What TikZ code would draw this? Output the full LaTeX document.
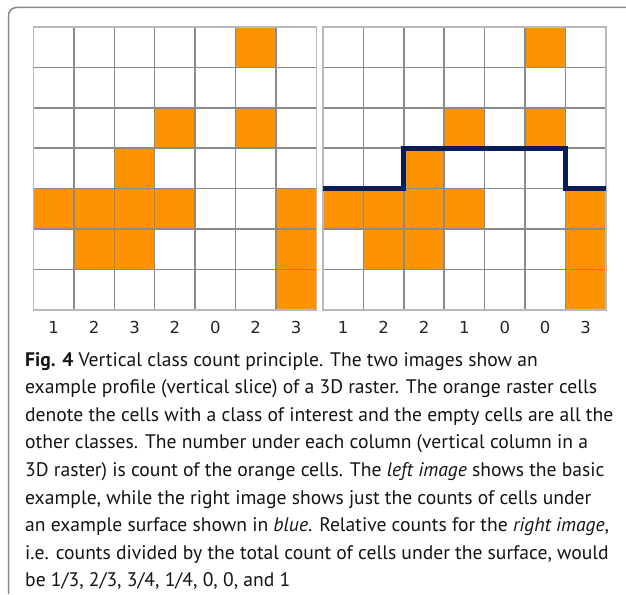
\documentclass[tikz,border=0pt]{standalone}
\usepackage{fontspec}
\setmainfont{PT Sans}
\newfontfamily\numfont{DejaVu Sans}
\definecolor{cellorange}{RGB}{255,146,0}
\definecolor{gridgray}{RGB}{138,138,138}
\definecolor{bordergray}{RGB}{185,185,185}
\definecolor{framegray}{RGB}{140,140,140}
\definecolor{surfblue}{RGB}{8,28,88}
\definecolor{captext}{RGB}{20,20,20}
\tikzset{
  orangecell/.style={fill=cellorange},
  gridline/.style={draw=gridgray,line width=1.5pt},
  outerline/.style={draw=bordergray,line width=1.5pt},
  countnum/.style={font=\numfont\fontsize{16.5}{18}\selectfont,anchor=base,inner sep=0pt,text=black!85},
  capline/.style={font=\fontsize{19.6}{27.6}\selectfont,anchor=base west,inner sep=0pt,text=captext},
  surface/.style={draw=surfblue,line width=5pt,line join=miter},
  framepath/.style={draw=framegray,line width=1.5pt,rounded corners=8pt}
}
\begin{document}
\begin{tikzpicture}[x=1pt,y=-1pt]
\useasboundingbox (0,0) rectangle (626,594);
\fill[white] (0,0) rectangle (626,594);
\draw[framepath] (8.5,594) -- (8.5,7.5) -- (626,7.5);
\def\cs{40.4}
\foreach \ox/\nm in {33.5/L,323/R}{
  \foreach \c/\r in {6/1,4/3,6/3,3/4,1/5,2/5,3/5,4/5,7/5,2/6,3/6,7/6,7/7}{
    \fill[orangecell] ({\ox+(\c-1)*\cs},{27+(\r-1)*\cs}) rectangle ++(\cs,\cs);
  }
  \foreach \i in {1,...,6}{
    \draw[gridline] ({\ox+\i*\cs},27) -- ++(0,7*\cs);
    \draw[gridline] (\ox,{27+\i*\cs}) -- ++(7*\cs,0);
  }
  \draw[outerline] (\ox,27) rectangle ++(7*\cs,7*\cs);
}
% surface line
\coordinate (s0) at (323,{27+4*\cs});
\coordinate (s1) at ({323+2*\cs},{27+4*\cs});
\coordinate (s2) at ({323+2*\cs},{27+3*\cs});
\coordinate (s3) at ({323+6*\cs},{27+3*\cs});
\coordinate (s4) at ({323+6*\cs},{27+4*\cs});
\coordinate (s5) at ({323+7*\cs},{27+4*\cs});
\draw[surface] (s0) -- (s1) -- (s2) -- (s3) -- (s4) -- (s5);
% counts
\foreach \n [count=\i] in {1,2,3,2,0,2,3}{
  \node[countnum] (nL\i) at ({33.5+(\i-0.5)*\cs},333) {\n};
}
\foreach \n [count=\i] in {1,2,2,1,0,0,3}{
  \node[countnum] (nR\i) at ({323+(\i-0.5)*\cs},333) {\n};
}
% caption
\node[capline] (cap1) at (25,366) {\textbf{Fig. 4} Vertical class count principle. The two images show an};
\node[capline] (cap2) at (25,393.6) {example profile (vertical slice) of a 3D raster. The orange raster cells};
\node[capline] (cap3) at (25,421.2) {denote the cells with a class of interest and the empty cells are all the};
\node[capline] (cap4) at (25,448.8) {other classes. The number under each column (vertical column in a};
\node[capline] (cap5) at (25,476.4) {3D raster) is count of the orange cells. The \textit{left image} shows the basic};
\node[capline] (cap6) at (25,504) {example, while the right image shows just the counts of cells under};
\node[capline] (cap7) at (25,531.6) {an example surface shown in \textit{blue}. Relative counts for the \textit{right image},};
\node[capline] (cap8) at (25,559.2) {i.e. counts divided by the total count of cells under the surface, would};
\node[capline] (cap9) at (25,586.8) {be 1/3, 2/3, 3/4, 1/4, 0, 0, and 1};
\end{tikzpicture}
\end{document}
